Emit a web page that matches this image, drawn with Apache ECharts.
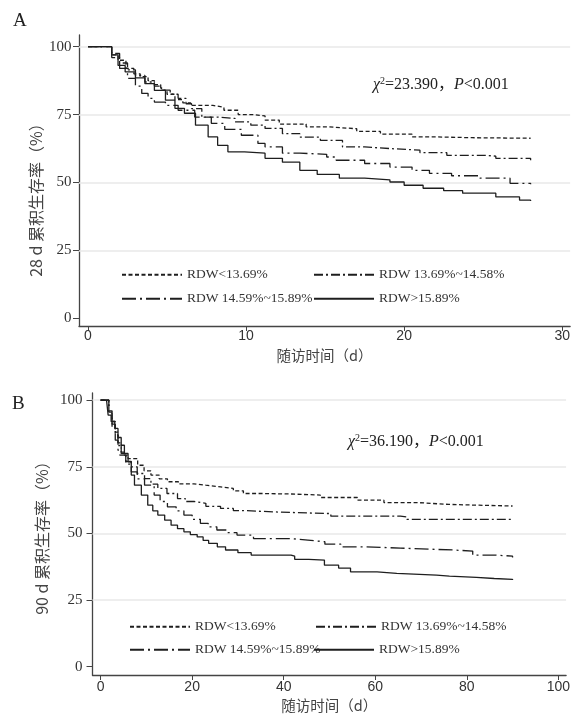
<!DOCTYPE html>
<html><head><meta charset="utf-8">
<script src="https://cdn.jsdelivr.net/npm/echarts@6/dist/echarts.min.js"></script>
<style>html,body{margin:0;padding:0;background:#fff}#c{width:573px;height:715px}</style>
</head><body><div id="c"></div>
<script>
// ---------- data ----------
const seriesNames = ['RDW<13.69%', 'RDW 13.69%~14.58%', 'RDW 14.59%~15.89%', 'RDW>15.89%'];

// Panel A: 28 d survival, [day, survival %]
const a1 = [[0,100],[1.2,100],[1.5,97],[1.9,95],[2.4,92],[2.9,90],[3.3,89],[3.8,87.5],[4.2,86],[4.6,84],[5.0,82.5],[5.5,80.5],[6.0,79.3],[6.5,78.4],[7.9,77.7],[8.6,76.6],[9.5,75],[10.4,74.5],[11.2,73],[12.1,71.5],[13.8,70.5],[15.2,69.8],[17,68.8],[18.5,67.8],[20.5,66.8],[22,66.5],[24.3,66.3],[28,66.3]];
const a2 = [[0,100],[1.2,100],[1.5,97.5],[2,94],[2.5,91.5],[3,89.4],[3.6,87],[4.2,85.5],[4.65,84],[5.2,82.5],[5.7,81],[6.2,79],[6.55,77.2],[7.2,74.1],[8.2,73.6],[9.3,72.3],[10.3,71.1],[11.2,69.9],[12.3,68],[13.4,66.7],[14.7,65.5],[16.1,63.1],[17.5,62.5],[19.1,61.9],[21,61],[22.7,60],[25.2,59.7],[25.8,58.9],[28,58.2]];
const a3 = [[0,100],[1.2,100],[1.5,96],[2,92],[2.5,88.3],[3,85.5],[3.4,82.8],[3.8,81],[4.2,79.6],[4.9,78.4],[5.7,76.6],[6.75,74.1],[7.8,71.8],[8.65,69.6],[9.7,67.4],[10.75,64.4],[11.2,63.1],[12.3,60.8],[13.4,60.4],[15.1,59.4],[15.7,58.2],[17.5,57],[19.1,55.7],[20.5,54.5],[21.6,53.4],[23,52.5],[24.8,51.6],[26.7,49.7],[28,49.4]];
const a4 = [[0,100],[1.2,100],[1.5,97],[1.9,93.1],[2.35,90.7],[3,88.5],[3.6,86.4],[4.2,83.9],[4.9,80.3],[5.5,77.3],[6.1,75.5],[6.8,71.1],[7.6,66.8],[8.2,63.7],[8.85,61.3],[9.9,60.8],[11.2,58.9],[12.3,57.5],[13.4,54.5],[14.5,53],[15.9,51.6],[17.5,51],[19.1,50.2],[20,49],[21.2,47.9],[22.5,47],[23.7,46.1],[25.8,44.7],[27.3,43.5],[28,43.2]];

// Panel B: 90 d survival, [day, survival %]
const b1 = [[0,100],[1.3,100],[1.8,96],[2.5,92],[3.2,88],[3.8,84],[4.5,80.5],[5.2,79.4],[6,78.1],[8.1,75.6],[9.5,73.5],[11,71.9],[12.8,70.5],[14.6,69.4],[17,68.6],[20.4,68.1],[23,67.5],[26.2,66.9],[29,66],[31.2,65],[35,64.8],[41.7,64.4],[48,63.5],[56.1,62.5],[61.9,61.6],[69.1,60.9],[76,60.6],[82.7,60.3],[90,60.3]];
const b2 = [[0,100],[1.3,100],[1.8,95.5],[2.5,91],[3.2,87],[3.8,83],[4.5,80],[5.5,77],[6.7,75],[8,72.5],[9.6,70.6],[11,68.5],[12.5,66.9],[14.5,65],[16.8,63.1],[18.5,62],[20.4,61.3],[23,60.2],[26.2,59.4],[29,58.6],[31.2,58.1],[37.7,57.5],[48.9,57.5],[50.3,56.5],[65.5,56.2],[66.9,55.3],[90,55.3]];
const b3 = [[0,100],[1.3,100],[1.8,95],[2.5,90],[3.2,85],[3.8,81.5],[4.2,79.4],[5.5,76],[6.7,73.1],[8,70.5],[9.6,68.1],[11.7,64.4],[13,62],[14.6,60],[16.5,58.5],[18.2,56.9],[20,55.3],[21.8,53.8],[23.5,52.5],[25.4,51.3],[27.5,50.3],[29.8,49.4],[33.4,48.1],[41.6,47.5],[45.3,46.9],[49,46],[52.5,45],[58,44.5],[65.5,43.8],[77,43.4],[81.3,41.9],[86,41.5],[90,41]];
const b4 = [[0,100],[1.3,100],[1.65,94.4],[2.3,92],[3.1,89.4],[3.8,86],[4.5,83.1],[5.2,80],[6,76.9],[6.7,71.9],[7.4,68.1],[8.9,64.4],[10.3,60.6],[11.4,58.5],[12.5,56.9],[14,55],[15.4,53.1],[16.8,51.8],[18.2,50.6],[19.6,49.6],[21.1,48.7],[22.4,47.4],[23.6,46.3],[25.5,45],[27.3,43.8],[30,42.8],[32.9,41.9],[41.6,41.5],[42.4,40.3],[45.5,40],[48.9,38.1],[52,37],[54.6,35.6],[60.4,35],[64.7,34.4],[73.4,34],[76.2,33.5],[82.1,33.1],[86,32.8],[90,32.5]];

const yTicks = [0, 25, 50, 75, 100];
const gridValues = [25, 50, 75, 100];
const xTicksA = [0, 10, 20, 30];
const xTicksB = [0, 20, 40, 60, 80, 100];
const yNameA = '28 d 累积生存率（%）';
const yNameB = '90 d 累积生存率（%）';
const xName = '随访时间（d）';
const statA = ['23.390', '0.001'];
const statB = ['36.190', '0.001'];

// ---------- styles ----------
const SERIF = '"Liberation Serif", "Noto Sans CJK SC", serif';
const SANS = '"Liberation Sans", Arial, sans-serif';
const CJK = '"Noto Sans CJK SC", "Liberation Serif", serif';
const dashes = [[4, 2.5], [9, 3, 2, 3], [14, 4, 2, 4], 'solid'];
const lineColor = '#1e1e1e';
const axisColor = '#444';

function makeSeries(data, idx, gi) {
  const s = {
    name: seriesNames[idx], type: 'line', step: 'end',
    xAxisIndex: gi, yAxisIndex: gi,
    data: data, symbol: 'none', showSymbol: false, legendIcon: 'none',
    lineStyle: { color: lineColor, width: 1.3, type: dashes[idx] },
    itemStyle: { color: lineColor },
    emphasis: { disabled: true }, silent: true, animation: false, z: 3
  };
  if (idx === 0) {
    s.markLine = {
      silent: true, symbol: ['none', 'none'], label: { show: false }, z: 1,
      animation: false, emphasis: { disabled: true },
      lineStyle: { color: '#e9e9e9', type: 'solid', width: 1.5 },
      data: gridValues.map(v => ({ yAxis: v }))
    };
  }
  return s;
}

function xAxis(gi, min, max, ticks, margin, gap) {
  return {
    gridIndex: gi, type: 'value', min: min, max: max,
    axisLine: { show: true, onZero: false, lineStyle: { color: axisColor, width: 1.3 } },
    axisTick: { show: true, customValues: ticks, length: 5, lineStyle: { color: axisColor, width: 1 } },
    axisLabel: { customValues: ticks, margin: margin, fontFamily: SANS, fontSize: 14, color: '#333' },
    splitLine: { show: false },
    name: xName, nameLocation: 'middle', nameGap: gap,
    nameTextStyle: { fontFamily: CJK, fontSize: 14.5, color: '#444' }
  };
}
function yAxis(gi, min, max, margin) {
  return {
    gridIndex: gi, type: 'value', min: min, max: max,
    axisLine: { show: true, onZero: false, lineStyle: { color: axisColor, width: 1.3 } },
    axisTick: { show: true, customValues: yTicks, length: 6, lineStyle: { color: axisColor, width: 1 } },
    axisLabel: { customValues: yTicks, margin: margin, fontFamily: SERIF, fontSize: 15, color: '#333' },
    splitLine: { show: false }
  };
}

function legend(name, left, top) {
  return {
    data: [name], left: left, top: top, padding: 0, itemGap: 0,
    itemWidth: 60, itemHeight: 14, selectedMode: false,
    itemStyle: { opacity: 0 },
    textStyle: { fontFamily: SERIF, fontSize: 13.5, color: '#333' }
  };
}

function stat(vals, left, top) {
  return {
    type: 'text', left: left, top: top, silent: true,
    style: {
      text: '{i|χ}{sup|2}{n|=' + vals[0] + '，}{i|P}{n|<' + vals[1] + '}',
      rich: {
        i: { fontFamily: SERIF, fontStyle: 'italic', fontSize: 16, fill: '#222', lineHeight: 18 },
        sup: { fontFamily: SERIF, fontSize: 10, fill: '#222', verticalAlign: 'top', lineHeight: 18, padding: [0, 0, 8, 0] },
        n: { fontFamily: SERIF, fontSize: 16, fill: '#222', lineHeight: 18 }
      }
    }
  };
}

const option = {
  backgroundColor: '#fff',
  animation: false,
  grid: [
    { left: 79, right: 2, top: 35, bottom: 389, containLabel: false },
    { left: 92.5, right: 2, top: 393, bottom: 40, containLabel: false }
  ],
  xAxis: [xAxis(0, -0.57, 30.5, xTicksA, 3, 22), xAxis(1, -1.77, 101.7, xTicksB, 5, 23)],
  yAxis: [yAxis(0, -2.8, 104.3, 7.5), yAxis(1, -3.1, 102.7, 10)],
  legend: [
    legend(seriesNames[0], 121, 268), legend(seriesNames[1], 313, 268),
    legend(seriesNames[2], 121, 292), legend(seriesNames[3], 313, 292),
    legend(seriesNames[0], 129, 620), legend(seriesNames[1], 315, 620),
    legend(seriesNames[2], 129, 643), legend(seriesNames[3], 313, 643)
  ],
  series: [
    makeSeries(a1, 0, 0), makeSeries(a2, 1, 0), makeSeries(a3, 2, 0), makeSeries(a4, 3, 0),
    makeSeries(b1, 0, 1), makeSeries(b2, 1, 1), makeSeries(b3, 2, 1), makeSeries(b4, 3, 1)
  ],
  graphic: [
    { type: 'text', left: 13, top: 12, silent: true, style: { text: 'A', fontFamily: SERIF, fontSize: 19, fill: '#222' } },
    { type: 'text', left: 12, top: 395, silent: true, style: { text: 'B', fontFamily: SERIF, fontSize: 19, fill: '#222' } },
    stat(statA, 373, 76),
    stat(statB, 348, 433),
    { type: 'text', x: 36, y: 196, rotation: Math.PI / 2, silent: true,
      style: { text: yNameA, fontFamily: CJK, fontSize: 16, fill: '#444', align: 'center', verticalAlign: 'middle' } },
    { type: 'text', x: 42, y: 534, rotation: Math.PI / 2, silent: true,
      style: { text: yNameB, fontFamily: CJK, fontSize: 16, fill: '#444', align: 'center', verticalAlign: 'middle' } }
  ]
};

const chart = echarts.init(document.getElementById('c'), null, { renderer: 'canvas' });
chart.setOption(option);
</script>
</body></html>
